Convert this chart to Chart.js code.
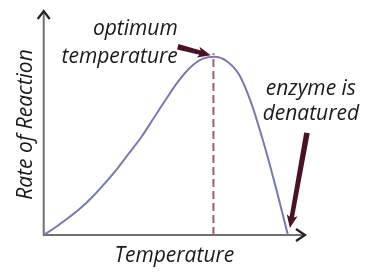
<!DOCTYPE html>
<html>
<head>
<meta charset="utf-8">
<script src="https://cdn.jsdelivr.net/npm/chart.js@4.4.0/dist/chart.umd.min.js"></script>
<style>
  html, body { margin: 0; padding: 0; background: #fff; }
  #wrap { width: 376px; height: 272px; }
</style>
</head>
<body>
<div id="wrap"><canvas id="chart" width="376" height="272"></canvas></div>
<script>
// ---- data ----
const temps = [0, 5, 10, 15, 20, 25, 30, 35, 40, 45, 50, 55, 60, 65, 70, 75, 80, 85, 90, 95, 100];
const rates = [0, 4.5, 9.5, 15, 21.5, 29, 37, 46, 55, 65.5, 76, 86, 94, 98.8, 100, 97.5, 90, 74, 52, 27, 0];
const peakTemp = 69.5;
const dashTop = 102;
const xTitle = "Temperature";
const yTitle = "Rate of Reaction";

const FONT = "'Open Sans', Lato, sans-serif";
const INK = "#1a1a1a";
const ARROW = "#4a1222";

// notes: text lines + arrows, in data units
const notes = [
  { lines: ["optimum", "temperature"], t: 54.9, r: [112, 96.6], align: "right",
    arrow: { from: [54.9, 105.6], to: [68.4, 100.8] } },
  { lines: ["enzyme is", "denatured"], t: 109.4, r: [78.7, 64.6], align: "center",
    arrow: { from: [107.8, 57.3], to: [100.8, 3.9] } }
];

function fatArrow(ctx, x1, y1, x2, y2) {
  const ang = Math.atan2(y2 - y1, x2 - x1);
  const len = Math.hypot(x2 - x1, y2 - y1);
  const head = 11, hw = 5.5, sw = 2.8;
  ctx.save();
  ctx.translate(x1, y1);
  ctx.rotate(ang);
  ctx.beginPath();
  ctx.moveTo(0, -sw);
  ctx.lineTo(len - head, -sw * 0.8);
  ctx.lineTo(len - head - 2, -hw);
  ctx.lineTo(len, 0);
  ctx.lineTo(len - head - 2, hw);
  ctx.lineTo(len - head, sw * 0.8);
  ctx.lineTo(0, sw);
  ctx.closePath();
  ctx.fillStyle = ARROW;
  ctx.fill();
  ctx.restore();
}

const decor = {
  id: "decor",
  beforeDatasetsDraw(chart) {
    const { ctx, chartArea: a } = chart;
    ctx.save();
    ctx.strokeStyle = "#707070";
    ctx.lineWidth = 2;
    ctx.beginPath();
    ctx.moveTo(a.left, a.top - 2);
    ctx.lineTo(a.left, a.bottom);
    ctx.lineTo(a.right - 1, a.bottom);
    ctx.stroke();
    // arrow heads
    ctx.strokeStyle = "#222";
    ctx.lineWidth = 2.2;
    ctx.beginPath();
    ctx.moveTo(a.left - 6, a.top + 5);
    ctx.lineTo(a.left, a.top - 3);
    ctx.lineTo(a.left + 6, a.top + 5);
    ctx.moveTo(a.right - 9, a.bottom - 6);
    ctx.lineTo(a.right, a.bottom);
    ctx.lineTo(a.right - 9, a.bottom + 6);
    ctx.stroke();
    ctx.restore();
  },
  afterDatasetsDraw(chart) {
    const { ctx, scales: { x, y } } = chart;
    ctx.save();
    ctx.fillStyle = INK;
    ctx.font = "italic 21px " + FONT;
    ctx.textBaseline = "alphabetic";
    notes.forEach(n => {
      ctx.textAlign = n.align;
      n.lines.forEach((s, i) => ctx.fillText(s, x.getPixelForValue(n.t), y.getPixelForValue(n.r[i])));
      const f = n.arrow.from, t = n.arrow.to;
      fatArrow(ctx, x.getPixelForValue(f[0]), y.getPixelForValue(f[1]),
        x.getPixelForValue(t[0]), y.getPixelForValue(t[1]));
    });
    ctx.restore();
  }
};

new Chart(document.getElementById("chart"), {
  type: "line",
  data: {
    datasets: [
      {
        data: temps.map((t, i) => ({ x: t, y: rates[i] })),
        borderColor: "#7679b4",
        borderWidth: 2,
        pointRadius: 0,
        cubicInterpolationMode: "monotone",
        fill: false
      },
      {
        data: [{ x: peakTemp, y: 0 }, { x: peakTemp, y: dashTop }],
        borderColor: "#9e5e6e",
        borderWidth: 2,
        borderDash: [8, 4],
        pointRadius: 0
      }
    ]
  },
  options: {
    responsive: false,
    animation: false,
    layout: { padding: { left: 11, right: 71, top: 14, bottom: 2.8 } },
    plugins: { legend: { display: false }, tooltip: { enabled: false } },
    scales: {
      x: {
        type: "linear", min: 0, max: 107,
        grid: { display: false, drawTicks: false },
        border: { display: false },
        ticks: { display: false },
        title: { display: true, text: xTitle, color: INK,
          font: { family: FONT, size: 21, style: "italic" }, padding: { top: 8, bottom: 1 } }
      },
      y: {
        min: 0, max: 124,
        grid: { display: false, drawTicks: false },
        border: { display: false },
        ticks: { display: false },
        title: { display: true, text: yTitle, color: INK,
          font: { family: FONT, size: 21, style: "italic" }, padding: { top: 2, bottom: 5.5 } }
      }
    }
  },
  plugins: [decor]
});
</script>
</body>
</html>
